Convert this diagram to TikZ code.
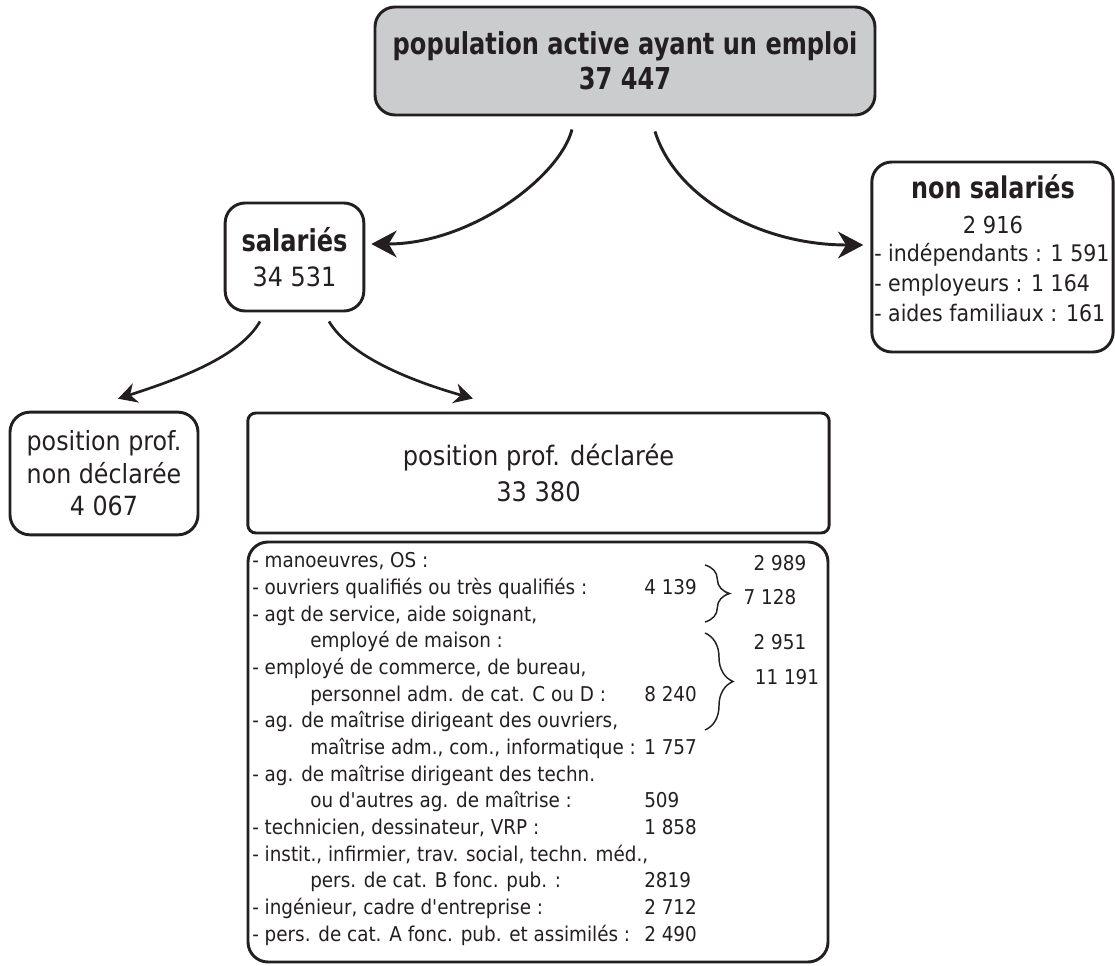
\documentclass[tikz,border=0pt]{standalone}
\usepackage{fontspec}
\setmainfont{DejaVu Sans}[FakeStretch=0.9, Ligatures=TeXOff, BoldFeatures={FakeStretch=0.8}]
\usetikzlibrary{arrows.meta,calc,decorations.pathreplacing}
\definecolor{boxgray}{HTML}{CBCCCE}
\definecolor{ink}{HTML}{231F20}
\newcommand{\ind}{\hspace*{43.5pt}}
\newcommand{\row}[2]{\makebox[294pt][l]{#1}#2}

\begin{document}
\begin{tikzpicture}[x=0.75pt, y=-0.75pt,
  box/.style={draw=ink, line width=2.2pt, rounded corners=15pt, inner sep=0pt, align=center, text=ink},
  lab/.style={inner sep=0pt, text=ink},
  e/.style={-{Stealth[length=19pt, width=20pt, inset=6pt]}, line width=2.2pt, draw=ink},
  es/.style={-{Stealth[length=14pt, width=15pt, inset=4.5pt]}, line width=2pt, draw=ink},
  br/.style={draw=ink, line width=1.1pt, decorate},
  listfont/.style={font=\fontsize{15.3}{20}\selectfont}
]
\useasboundingbox (0,0) rectangle (1115,966);

% boxes
\node[box, fill=boxgray, minimum width=375pt, minimum height=81pt,
      font=\bfseries\fontsize{22.6}{26}\selectfont] (pop) at (625,61) {population active ayant un emploi\\37 447};
\node[box, minimum width=104pt, minimum height=81pt, font=\fontsize{19.9}{26}\selectfont] (sal) at (294.5,257)
  {{\fontsize{22.6}{26}\selectfont\bfseries salariés}\\34 531};
\node[box, minimum width=181pt, minimum height=142.5pt] (nonsal) at (992.5,257) {};
\node[lab, font=\bfseries\fontsize{22.4}{26}\selectfont] (nstitle) at (993,187) {non salariés};
\node[lab, font=\fontsize{17.5}{22}\selectfont] (nsnum) at (993,225) {2 916};
\node[lab, anchor=west, align=left, font=\fontsize{17.1}{22.5}\selectfont] (nsitems) at (874,283)
  {- indépendants : 1 591\\- employeurs : 1 164\\- aides familiaux : 161};
\node[box, minimum width=141pt, minimum height=92pt, font=\fontsize{19.8}{24.4}\selectfont] (nondecl) at (104,473.5)
  {position prof.\\non déclarée\\4 067};
\node[box, rounded corners=6pt, minimum width=436pt, minimum height=90pt, font=\fontsize{20.1}{27}\selectfont] (decl) at (538.5,473)
  {position prof. déclarée\\33 380};
\node[box, minimum width=435pt, minimum height=315pt] (detail) at (538,752) {};

% detail list
\node[lab, listfont, anchor=north west] (rows) at (252,549) {%
\begin{tabular}{@{}l@{}}
\row{- manoeuvres, OS :}{}\\
\row{- ouvriers qualifiés ou très qualifiés :}{4 139}\\
\row{- agt de service, aide soignant,}{}\\
\row{\ind employé de maison :}{}\\
\row{- employé de commerce, de bureau,}{}\\
\row{\ind personnel adm. de cat. C ou D :}{8 240}\\
\row{- ag. de maîtrise dirigeant des ouvriers,}{}\\
\row{\ind maîtrise adm., com., informatique :}{1 757}\\
\row{- ag. de maîtrise dirigeant des techn.}{}\\
\row{\ind ou d'autres ag. de maîtrise :}{509}\\
\row{- technicien, dessinateur, VRP :}{1 858}\\
\row{- instit., infirmier, trav. social, techn. méd.,}{}\\
\row{\ind pers. de cat. B fonc. pub. :}{2819}\\
\row{- ingénieur, cadre d'entreprise :}{2 712}\\
\row{- pers. de cat. A fonc. pub. et assimilés :}{2 490}
\end{tabular}};
\node[lab, listfont] (n2989) at (780,563) {2 989};
\node[lab, listfont] (n7128) at (770,597) {7 128};
\node[lab, listfont] (n2951) at (780,642) {2 951};
\node[lab, listfont] (n11191) at (787,677) {11 191};
\draw[br, decoration={brace, amplitude=18.5pt}] (705,565) -- (705,622);
\draw[br, decoration={brace, amplitude=21pt}] (705,633) -- (705,730);

% arrows
\draw[e] ($(pop.south)+(-53,13)$) .. controls +(-12,47) and +(100,0) .. ($(sal.east)+(6,-13)$);
\draw[e] ($(pop.south)+(30,15)$) .. controls +(20,65) and +(-105,0) .. ($(nonsal.west)+(-7,-12)$);
\draw[es] ($(sal.south)+(-34.5,9)$) .. controls +(-20,35) and +(62,-20) .. ($(nondecl.north)+(14,-12)$);
\draw[es] ($(sal.south)+(34.5,9)$) .. controls +(21,35) and +(-63,-18) .. ($(decl.north)+(-65.5,-13)$);
\end{tikzpicture}
\end{document}
